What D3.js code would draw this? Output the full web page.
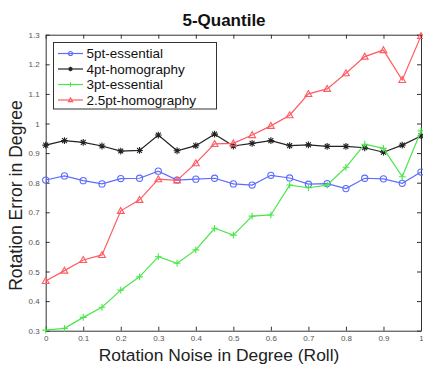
<!DOCTYPE html>
<html>
<head>
<meta charset="utf-8">
<script src="https://cdn.jsdelivr.net/npm/d3@7"></script>
<style>
  html, body { margin: 0; padding: 0; background: #fff; }
  svg { display: block; font-family: "Liberation Sans", Arial, sans-serif; }
</style>
</head>
<body>
<svg id="chart" width="423" height="367"></svg>
<script>
// Rotation noise levels (roll, degrees)
const noise = [0, 0.05, 0.1, 0.15, 0.2, 0.25, 0.3, 0.35, 0.4, 0.45, 0.5,
               0.55, 0.6, 0.65, 0.7, 0.75, 0.8, 0.85, 0.9, 0.95, 1];

// Rotation error per method
const err5ptEssential = [0.809, 0.823, 0.807, 0.796, 0.814, 0.815, 0.839, 0.809, 0.812, 0.815, 0.796,
                         0.792, 0.825, 0.816, 0.795, 0.797, 0.780, 0.815, 0.813, 0.798, 0.836];
const err4ptHomography = [0.927, 0.942, 0.936, 0.924, 0.907, 0.909, 0.961, 0.908, 0.925, 0.964, 0.924,
                          0.933, 0.942, 0.925, 0.928, 0.923, 0.923, 0.918, 0.903, 0.927, 0.958];
const err3ptEssential = [0.302, 0.308, 0.345, 0.379, 0.437, 0.482, 0.550, 0.528, 0.573, 0.646, 0.623,
                         0.687, 0.691, 0.792, 0.783, 0.792, 0.852, 0.930, 0.916, 0.820, 0.975];
const err25ptHomography = [0.468, 0.503, 0.539, 0.556, 0.705, 0.742, 0.812, 0.808, 0.866, 0.931, 0.933,
                           0.961, 0.992, 1.028, 1.100, 1.117, 1.170, 1.226, 1.248, 1.147, 1.296];

const seriesNames = ["5pt-essential", "4pt-homography", "3pt-essential", "2.5pt-homography"];
const xTicks = [0, 0.1, 0.2, 0.3, 0.4, 0.5, 0.6, 0.7, 0.8, 0.9, 1];
const yTicks = [0.3, 0.4, 0.5, 0.6, 0.7, 0.8, 0.9, 1, 1.1, 1.2, 1.3];

const series = [
  { name: seriesNames[0], values: err5ptEssential, color: "#5b6cff", marker: "circle" },
  { name: seriesNames[1], values: err4ptHomography, color: "#222222", marker: "asterisk" },
  { name: seriesNames[2], values: err3ptEssential, color: "#4be64b", marker: "plus" },
  { name: seriesNames[3], values: err25ptHomography, color: "#ff5a62", marker: "triangle" }
];

const svg = d3.select("#chart");
const plot = { left: 45.7, right: 421, top: 34.7, bottom: 330.7 };

const x = d3.scaleLinear().domain([0, 1]).range([plot.left, plot.right]);
const y = d3.scaleLinear().domain([0.3, 1.3]).range([plot.bottom, plot.top]);

// Axes box with inward ticks on all four sides
const fmt = d => d3.format("")(d);
const axisColor = "#333";
function styleAxis(g) {
  g.selectAll("path.domain").attr("stroke", axisColor).attr("stroke-width", 1);
  g.selectAll(".tick line").attr("stroke", axisColor);
  g.selectAll(".tick text").attr("fill", "#555").attr("font-size", "8px")
    .attr("font-family", "'Liberation Sans', Arial, sans-serif");
}
svg.append("g").attr("transform", `translate(0,${plot.bottom})`)
  .call(d3.axisBottom(x).tickValues(xTicks).tickSizeInner(-4).tickSizeOuter(0).tickPadding(5).tickFormat(fmt))
  .call(styleAxis);
svg.append("g").attr("transform", `translate(0,${plot.top})`)
  .call(d3.axisTop(x).tickValues(xTicks).tickSizeInner(-4).tickSizeOuter(0).tickFormat(""))
  .call(styleAxis);
svg.append("g").attr("transform", `translate(${plot.left},0)`)
  .call(d3.axisLeft(y).tickValues(yTicks).tickSizeInner(-4).tickSizeOuter(0).tickPadding(6).tickFormat(fmt))
  .call(styleAxis);
svg.append("g").attr("transform", `translate(${plot.right},0)`)
  .call(d3.axisRight(y).tickValues(yTicks).tickSizeInner(-4).tickSizeOuter(0).tickFormat(""))
  .call(styleAxis);

// Marker shapes (k scales the glyph size)
function drawMarker(g, type, cx, cy, color, k = 1) {
  const s = 3.4 * k;
  const sw = 1.1;
  if (type === "circle") {
    g.append("circle").attr("cx", cx).attr("cy", cy).attr("r", 3.1 * k)
      .attr("fill", "none").attr("stroke", color).attr("stroke-width", sw);
  } else if (type === "triangle") {
    g.append("path")
      .attr("d", `M${cx},${cy - s}L${cx + s},${cy + s * 0.75}L${cx - s},${cy + s * 0.75}Z`)
      .attr("fill", "none").attr("stroke", color).attr("stroke-width", sw);
  } else if (type === "plus") {
    g.append("path")
      .attr("d", `M${cx - s},${cy}H${cx + s}M${cx},${cy - s}V${cy + s}`)
      .attr("stroke", color).attr("stroke-width", sw);
  } else if (type === "asterisk") {
    const d = s * 0.72;
    g.append("path")
      .attr("d", `M${cx - s},${cy}H${cx + s}M${cx},${cy - s}V${cy + s}` +
                 `M${cx - d},${cy - d}L${cx + d},${cy + d}M${cx - d},${cy + d}L${cx + d},${cy - d}`)
      .attr("stroke", color).attr("stroke-width", sw);
  }
}

const line = d3.line().x((d, i) => x(noise[i])).y(d => y(d));

series.forEach(s => {
  const g = svg.append("g");
  g.append("path").datum(s.values).attr("d", line)
    .attr("fill", "none").attr("stroke", s.color).attr("stroke-width", 1.2);
  s.values.forEach((v, i) => drawMarker(g, s.marker, x(noise[i]), y(v), s.color));
});

// Legend
const lg = svg.append("g");
lg.append("rect").attr("x", 53.5).attr("y", 42.5).attr("width", 163).attr("height", 66.5)
  .attr("fill", "#fff").attr("stroke", axisColor).attr("stroke-width", 1);
series.forEach((s, i) => {
  const ly = 53.5 + i * 15.5;
  lg.append("line").attr("x1", 58).attr("x2", 83).attr("y1", ly).attr("y2", ly)
    .attr("stroke", s.color).attr("stroke-width", 1.2);
  drawMarker(lg, s.marker, 70.5, ly, s.color, 0.65);
  lg.append("text").attr("x", 86.5).attr("y", ly).attr("dy", "0.35em")
    .attr("font-size", "13.5px").attr("fill", "#111").text(s.name);
});

// Title and axis labels
svg.append("text").attr("x", 224).attr("y", 20).attr("dy", "0.35em")
  .attr("text-anchor", "middle").attr("font-weight", "bold").attr("font-size", "17px")
  .attr("fill", "#111").text("5-Quantile");
svg.append("text").attr("x", 219).attr("y", 355).attr("dy", "0.35em")
  .attr("text-anchor", "middle").attr("font-size", "17.4px").attr("fill", "#222")
  .text("Rotation Noise in Degree (Roll)");
svg.append("text").attr("transform", "translate(16,195.5) rotate(-90)").attr("dy", "0.35em")
  .attr("text-anchor", "middle").attr("font-size", "17.6px").attr("fill", "#222")
  .text("Rotation Error in Degree");
</script>
</body>
</html>
